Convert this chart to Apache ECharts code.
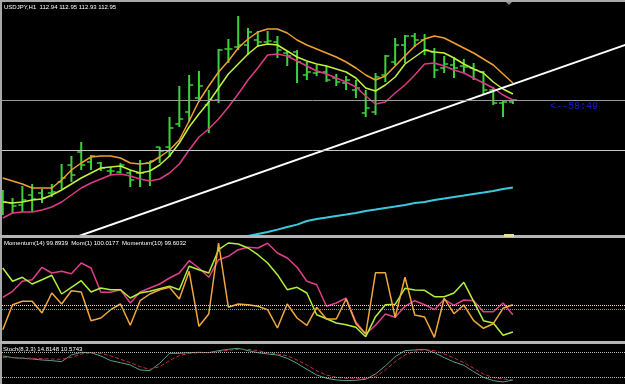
<!DOCTYPE html>
<html>
<head>
<meta charset="utf-8">
<script src="https://cdn.jsdelivr.net/npm/echarts@6/dist/echarts.min.js"></script>
<style>
  html, body { margin: 0; padding: 0; background: #000; }
  #chart { width: 625px; height: 384px; }
</style>
</head>
<body>
<div id="chart"></div>
<script>
// USDJPY H1 bars
const opens = [112.42, 112.435, 112.425, 112.475, 112.485, 112.485, 112.54, 112.625, 112.69, 112.64,
  112.635, 112.595, 112.59, 112.585, 112.585, 112.635, 112.715, 112.715, 112.83, 112.89,
  112.96, 112.925, 112.95, 113.205, 113.215, 113.225, 113.25, 113.24, 113.24, 113.185,
  113.19, 113.075, 113.085, 113.09, 113.06, 113.035, 113.0, 112.885, 112.89, 113.075,
  113.14, 113.225, 113.27, 113.25, 113.19, 113.11, 113.125, 113.12, 113.11, 113.09,
  113.0, 112.935, 112.94]
const highs = [112.5, 112.46, 112.52, 112.53, 112.505, 112.53, 112.63, 112.67, 112.74, 112.675,
  112.64, 112.615, 112.635, 112.6, 112.65, 112.645, 112.715, 112.865, 113.02, 113.075,
  113.095, 113.0, 113.205, 113.255, 113.37, 113.31, 113.295, 113.295, 113.27, 113.195,
  113.2, 113.14, 113.125, 113.12, 113.08, 113.07, 113.05, 113.0, 113.085, 113.175,
  113.26, 113.275, 113.285, 113.28, 113.21, 113.17, 113.165, 113.155, 113.135, 113.095,
  113.015, 112.95, 112.95]
const lows = [112.375, 112.38, 112.39, 112.39, 112.435, 112.465, 112.505, 112.54, 112.6, 112.6,
  112.595, 112.575, 112.585, 112.515, 112.515, 112.52, 112.635, 112.665, 112.815, 112.84,
  112.94, 112.785, 112.935, 113.135, 113.2, 113.175, 113.215, 113.225, 113.16, 113.12,
  113.035, 113.05, 113.07, 113.04, 113.02, 113.0, 112.96, 112.865, 112.875, 113.04,
  113.125, 113.135, 113.215, 113.175, 113.06, 113.085, 113.06, 113.085, 113.05, 112.975,
  112.925, 112.865, 112.93]
const closes = [112.44, 112.42, 112.45, 112.455, 112.46, 112.49, 112.56, 112.575, 112.625, 112.67,
  112.61, 112.595, 112.625, 112.55, 112.585, 112.645, 112.695, 112.81, 112.855, 113.025,
  113.02, 112.95, 113.2, 113.205, 113.225, 113.29, 113.24, 113.245, 113.2, 113.17,
  113.14, 113.09, 113.09, 113.05, 113.04, 113.05, 113.01, 112.91, 113.065, 113.17,
  113.225, 113.27, 113.25, 113.2, 113.1, 113.13, 113.11, 113.115, 113.1, 113.0,
  112.935, 112.94, 112.95]

// moving averages on the price pane
const maOrange = [112.56, 112.545, 112.53, 112.51, 112.51, 112.51, 112.55, 112.6, 112.635, 112.665,
  112.67, 112.67, 112.66, 112.635, 112.63, 112.635, 112.665, 112.7, 112.75, 112.845,
  112.945, 113.02, 113.09, 113.145, 113.21, 113.255, 113.29, 113.305, 113.305, 113.285,
  113.25, 113.225, 113.205, 113.185, 113.165, 113.14, 113.11, 113.075, 113.05, 113.07,
  113.12, 113.17, 113.22, 113.255, 113.27, 113.26, 113.235, 113.21, 113.185, 113.155,
  113.125, 113.08, 113.035]
const maLime = [112.44, 112.435, 112.44, 112.45, 112.455, 112.475, 112.5, 112.53, 112.56, 112.585,
  112.61, 112.615, 112.62, 112.6, 112.585, 112.595, 112.625, 112.67, 112.735, 112.815,
  112.88, 112.94, 113.01, 113.08, 113.13, 113.18, 113.22, 113.23, 113.225, 113.195,
  113.165, 113.145, 113.13, 113.12, 113.105, 113.09, 113.06, 113.01, 112.995, 113.025,
  113.065, 113.13, 113.165, 113.2, 113.19, 113.185, 113.16, 113.13, 113.105, 113.085,
  113.04, 113.005, 112.98]
const maPink = [112.36, 112.385, 112.39, 112.39, 112.4, 112.415, 112.44, 112.475, 112.51, 112.535,
  112.555, 112.575, 112.58, 112.57, 112.555, 112.545, 112.555, 112.585, 112.63, 112.7,
  112.765, 112.805, 112.855, 112.915, 112.98, 113.05, 113.11, 113.175, 113.18, 113.17,
  113.145, 113.12, 113.095, 113.08, 113.06, 113.04, 113.015, 112.97, 112.93, 112.94,
  112.985, 113.025, 113.075, 113.13, 113.135, 113.12, 113.1, 113.085, 113.06, 113.035,
  113.01, 112.975, 112.95]
const maCyan = [null, null, null, null, null, null, null, null, null, null,
  null, null, null, null, null, null, null, null, null, null,
  null, null, null, null, 112.26, 112.27, 112.28, 112.29, 112.302, 112.315,
  112.327, 112.345, 112.355, 112.362, 112.37, 112.377, 112.385, 112.395, 112.402, 112.41,
  112.417, 112.425, 112.435, 112.44, 112.45, 112.457, 112.465, 112.472, 112.48, 112.487,
  112.495, 112.505, 112.512]

// trend line (bar index, price)
const trendX = [5, 64]
const trendY = [112.2225, 113.235]
// horizontal levels
const levels = [112.95, 112.705]

// momentum pane
const momentum14 = [100.077, 100.137, 100.237, 100.253, 100.377, 100.32, 100.337, 100.313, 100.42, 100.37,
  100.127, 100.127, 100.153, 100.02, 100.13, 100.17, 100.21, 100.27, 100.32, 100.443,
  100.37, 100.277, 100.453, 100.487, 100.553, 100.577, 100.57, 100.617, 100.52, 100.47,
  100.377, 100.237, 100.203, 99.987, 100.02, 100.07, 99.83, 99.71, 99.797, 99.91,
  99.877, 99.987, 100.043, 100.003, 99.953, 100.057, 99.997, 100.05, 100.043, 99.933,
  99.933, 100.02, 99.903]
const mom1 = [99.753, 100.003, 100.037, 100.037, 99.92, 100.12, 100.01, 100.143, 100.13, 99.843,
  99.87, 99.953, 100.01, 99.797, 100.043, 100.11, 100.153, 100.177, 100.06, 100.337,
  99.787, 99.91, 100.62, 99.977, 100.01, 100.003, 99.987, 99.953, 99.77, 100.01,
  99.87, 99.797, 99.977, 99.86, 99.86, 100.06, 99.813, 99.71, 100.323, 100.323,
  99.877, 100.277, 99.9, 99.88, 99.677, 100.067, 99.913, 100.0, 99.843, 99.767,
  99.813, 99.967, 100.003]
const momentum10 = [100.37, 100.237, 100.277, 100.21, 100.253, 100.297, 100.11, 100.177, 100.243, 100.13,
  100.17, 100.153, 100.153, 100.07, 100.12, 100.137, 100.163, 100.187, 100.153, 100.387,
  100.353, 100.32, 100.553, 100.62, 100.61, 100.57, 100.503, 100.42, 100.303, 100.153,
  100.177, 100.12, 99.903, 99.863, 99.82, 99.803, 99.777, 99.683, 99.883, 100.003,
  100.007, 100.167, 100.15, 100.147, 100.083, 100.083, 100.12, 100.227, 100.037, 99.843,
  99.82, 99.697, 99.73]
const momLevels = [100.0, 99.96]

// stochastic pane
const stochMain = [72.0, 67.9, 66.3, 64.6, 62.2, 60.6, 58.1, 74.4, 80.9, 80.1,
  72.0, 60.6, 55.7, 50.0, 37.8, 36.2, 54.1, 78.5, 78.5, 80.1,
  80.9, 80.1, 85.0, 88.2, 90.7, 85.0, 80.1, 76.9, 74.4, 66.3,
  54.1, 39.4, 25.6, 17.5, 13.4, 11.8, 12.6, 15.0, 28.1, 47.6,
  70.3, 85.0, 86.6, 88.2, 80.1, 67.9, 57.3, 49.2, 33.7, 19.9,
  11.8, 8.5, 13.4]
const stochSignal = [68.7, 67.9, 67.1, 66.3, 65.5, 64.6, 63.8, 68.7, 76.9, 80.1,
  78.5, 72.0, 63.8, 55.7, 45.9, 39.4, 45.9, 60.6, 72.8, 78.5,
  80.1, 80.1, 82.5, 85.8, 88.2, 88.2, 85.0, 80.1, 76.9, 72.0,
  62.2, 50.0, 36.2, 25.6, 19.9, 17.5, 17.5, 17.5, 21.5, 37.8,
  58.1, 74.4, 83.4, 87.4, 85.0, 76.9, 67.1, 55.7, 41.9, 28.1,
  19.1, 15.9, 13.4]
const stochLevels = [80, 20]

const barColor = '#3cd23c'
const font = 'Liberation Sans'

function pairs(arr) {
  return arr.map((v, i) => [i, v])
}

function renderBar(params, api) {
  const x = api.value(0)
  const o = api.coord([x, api.value(1)])
  const h = api.coord([x, api.value(2)])
  const l = api.coord([x, api.value(3)])
  const c = api.coord([x, api.value(4)])
  return {
    type: 'group',
    children: [
      { type: 'line', shape: { x1: h[0], y1: h[1], x2: l[0], y2: l[1] }, style: { stroke: barColor, lineWidth: 2 } },
      { type: 'line', shape: { x1: o[0] - 4, y1: o[1], x2: o[0], y2: o[1] }, style: { stroke: barColor, lineWidth: 1.5 } },
      { type: 'line', shape: { x1: c[0], y1: c[1], x2: c[0] + 4, y2: c[1] }, style: { stroke: barColor, lineWidth: 1.5 } },
    ],
  }
}

function lineSeries(name, data, idx, color, width, type) {
  return {
    name: name,
    type: 'line',
    xAxisIndex: idx,
    yAxisIndex: idx,
    data: data,
    symbol: 'none',
    clip: true,
    silent: true,
    lineStyle: { color: color, width: width, type: type || 'solid' },
  }
}

function levelLines(values, colors, type) {
  return {
    silent: true,
    symbol: 'none',
    label: { show: false },
    data: values.map((v, i) => ({ yAxis: v, lineStyle: { color: colors[i], width: 1, type: type } })),
  }
}

const xAxisBase = { type: 'value', min: -0.28, max: 63.43, show: false }
const yAxisBase = { type: 'value', show: false, splitLine: { show: false } }

const chart = echarts.init(document.getElementById('chart'))

const bars = opens.map((o, i) => [i, o, highs[i], lows[i], closes[i]])

const hLevelSeries = lineSeries('levels', [], 0, '#999', 1)
hLevelSeries.markLine = levelLines(levels, ['#9a9a9a', '#c4c8c0'], 'solid')

const momSeries = lineSeries('Momentum(14)', pairs(momentum14), 1, '#e0408a', 1.5)
momSeries.markLine = levelLines(momLevels, ['#d8d8d8', '#e07088'], 'dotted')

const stochSeries = lineSeries('Stoch main', pairs(stochMain), 2, '#5a9e94', 1)
stochSeries.markLine = levelLines(stochLevels, ['#b8b8b8', '#b8b8b8'], 'dotted')

chart.setOption({
  backgroundColor: '#000000',
  animation: false,
  textStyle: { fontFamily: font },
  title: [
    { text: 'USDJPY,H1  112.94 112.95 112.93 112.95', left: 4, top: 4, padding: 0,
      textStyle: { color: '#ffffff', fontSize: 6, fontWeight: 'normal', fontFamily: font } },
    { text: 'Momentum(14) 99.8939  Mom(1) 100.0177  Momentum(10) 99.6032', left: 4, top: 240, padding: 0,
      textStyle: { color: '#ffffff', fontSize: 6, fontWeight: 'normal', fontFamily: font } },
    { text: 'Stoch(8,3,3) 14.8148 10.5743', left: 3, top: 346.5, padding: 0,
      textStyle: { color: '#ffffff', fontSize: 6, fontWeight: 'normal', fontFamily: font } },
    { text: '<--58:49', left: 550, top: 101, padding: 0,
      textStyle: { color: '#1a1ad0', fontSize: 10, fontWeight: 'normal', fontFamily: 'Liberation Mono' } },
  ],
  grid: [
    { left: 0, right: 0, top: 2, height: 234 },
    { left: 0, right: 0, top: 239, height: 102 },
    { left: 0, right: 0, top: 344, height: 40 },
  ],
  xAxis: [
    Object.assign({ gridIndex: 0 }, xAxisBase),
    Object.assign({ gridIndex: 1 }, xAxisBase),
    Object.assign({ gridIndex: 2 }, xAxisBase),
  ],
  yAxis: [
    Object.assign({ gridIndex: 0, min: 112.27, max: 113.44 }, yAxisBase),
    Object.assign({ gridIndex: 1, min: 99.64, max: 100.66 }, yAxisBase),
    Object.assign({ gridIndex: 2, min: 3.6, max: 101.2 }, yAxisBase),
  ],
  graphic: [
    { type: 'rect', shape: { x: 0, y: 0, width: 625, height: 2 }, style: { fill: '#a8a8a8' }, z: 100 },
    { type: 'rect', shape: { x: 0, y: 0, width: 2, height: 384 }, style: { fill: '#a8a8a8' }, z: 100 },
    { type: 'rect', shape: { x: 0, y: 235, width: 625, height: 3 }, style: { fill: '#b4b4b4' }, z: 100 },
    { type: 'rect', shape: { x: 0, y: 341, width: 625, height: 3 }, style: { fill: '#b4b4b4' }, z: 100 },
    { type: 'rect', shape: { x: 504, y: 234, width: 10, height: 3 }, style: { fill: '#e8dca0' }, z: 101 },
    { type: 'polygon', shape: { points: [[506, 2], [512, 2], [509, 5]] }, style: { fill: '#8a8a8a' }, z: 101 },
  ],
  series: [
    hLevelSeries,
    {
      name: 'USDJPY',
      type: 'custom',
      xAxisIndex: 0,
      yAxisIndex: 0,
      renderItem: renderBar,
      encode: { x: 0, y: [1, 2, 3, 4] },
      data: bars,
      clip: true,
      silent: true,
    },
    lineSeries('MA long', pairs(maCyan), 0, '#3cc8dc', 2),
    lineSeries('MA pink', pairs(maPink), 0, '#dc3c86', 1.5),
    lineSeries('MA lime', pairs(maLime), 0, '#c4f03c', 1.5),
    lineSeries('MA orange', pairs(maOrange), 0, '#f0a030', 1.5),
    lineSeries('trend', trendX.map((x, i) => [x, trendY[i]]), 0, '#ffffff', 2),
    momSeries,
    lineSeries('Momentum(10)', pairs(momentum10), 1, '#b4f03c', 1.5),
    lineSeries('Mom(1)', pairs(mom1), 1, '#f0a83c', 1.5),
    stochSeries,
    lineSeries('Stoch signal', pairs(stochSignal), 2, '#c03030', 1, 'dashed'),
  ],
})
</script>
</body>
</html>
